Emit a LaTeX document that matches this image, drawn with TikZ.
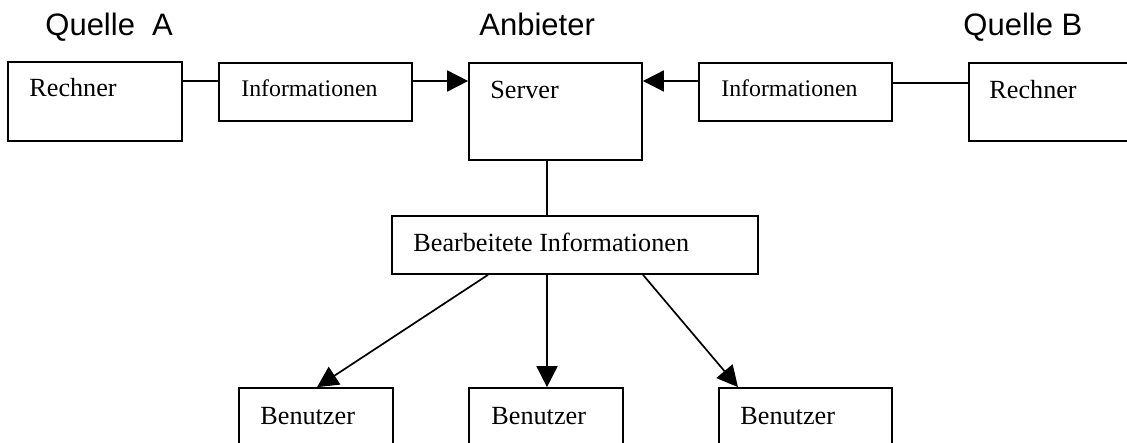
\documentclass[tikz,border=0pt]{standalone}
\usepackage{fontspec}
\setmainfont{Liberation Serif}
\newfontfamily\arialfont{Liberation Sans}
\usetikzlibrary{arrows.meta,fit}
\begin{document}
\begin{tikzpicture}[x=0.5pt,y=-0.5pt,
  box/.style={draw, line width=0.85pt, inner sep=0pt},
  lbl/.style={anchor=base west, inner sep=0pt, font=\fontsize{13.1pt}{15pt}\selectfont},
  slbl/.style={anchor=base west, inner sep=0pt, font=\fontsize{11.9pt}{14pt}\selectfont},
  head/.style={anchor=base west, inner sep=0pt, font=\arialfont\fontsize{15.5pt}{18pt}\selectfont},
  conn/.style={line width=0.85pt},
  arr/.style={conn, -{Triangle[length=10.5pt,width=10.5pt]}}]
\useasboundingbox (0,0) rectangle (1127,443);
\clip (0,0) rectangle (1127,443);

% headings
\node[head] (qa) at (45,36) {Quelle\ \ A};
\node[head] (anb) at (479,36) {Anbieter};
\node[head] (qb) at (963,36) {Quelle B};

% boxes
\node[box, fit={(8,62) (182,141)}] (ra) {};
\node[box, fit={(219,63) (412,121)}] (ia) {};
\node[box, fit={(469,63) (642,160)}] (srv) {};
\node[box, fit={(699,63) (892,121)}] (ib) {};
\node[box, fit={(969,63) (1145,141)}] (rb) {};
\node[box, fit={(392,216) (758,274)}] (bi) {};
\node[box, fit={(239,388) (393,470)}] (b1) {};
\node[box, fit={(469,388) (623,470)}] (b2) {};
\node[box, fit={(719,388) (892,470)}] (b3) {};

% texts
\node[lbl] (tra) at (29,97) {Rechner};
\node[slbl] (tia) at (241,97) {Informationen};
\node[lbl] (tsrv) at (490,99) {Server};
\node[slbl] (tib) at (721,97) {Informationen};
\node[lbl] (trb) at (989,99) {Rechner};
\node[lbl] (tbi) at (413,251) {Bearbeitete Informationen};
\node[lbl] (tb1) at (260,424) {Benutzer};
\node[lbl] (tb2) at (491,424) {Benutzer};
\node[lbl] (tb3) at (740,424) {Benutzer};

% helper coordinates
\coordinate (yA) at (0,81);
\coordinate (yB) at (0,83);
\coordinate (xM) at (547,0);
\coordinate (xL1) at (488,0);
\coordinate (xL2) at (317,0);
\coordinate (xR1) at (643,0);
\coordinate (xR2) at (738,0);

% connectors
\draw[conn] (ra.east |- yA) -- (ia.west |- yA);
\draw[arr] (ia.east |- yA) -- (srv.west |- yA);
\draw[arr] (ib.west |- yA) -- (srv.east |- yA);
\draw[conn] (ib.east |- yB) -- (rb.west |- yB);
\draw[conn] (srv.south -| xM) -- (bi.north -| xM);
\draw[arr] (bi.south -| xL1) -- (b1.north -| xL2);
\draw[arr] (bi.south -| xM) -- (b2.north -| xM);
\draw[arr] (bi.south -| xR1) -- (b3.north -| xR2);
\end{tikzpicture}
\end{document}
